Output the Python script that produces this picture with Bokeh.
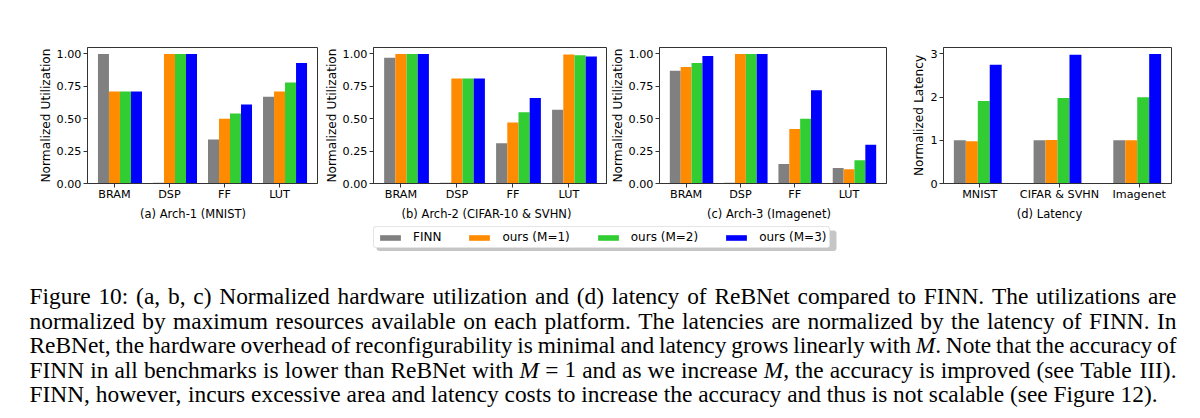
import numpy as np
from bokeh.plotting import figure
from bokeh.layouts import column, row
from bokeh.models import (ColumnDataSource, Range1d, FixedTicker, NumeralTickFormatter,
                          Legend, LegendItem, BoxAnnotation)
from bokeh.transform import dodge
from bokeh.core.properties import value, field
from bokeh.embed import file_html
from bokeh.resources import INLINE

# ---------------- data ----------------
resources = ["BRAM", "DSP", "FF", "LUT"]
series_names = ["FINN", "ours (M=1)", "ours (M=2)", "ours (M=3)"]
series_colors = ["#808080", "#ff8c00", "#32cd32", "#0000ff"]

arch1_finn = [1.00, 0.005, 0.34, 0.67]
arch1_m1 = [0.71, 1.00, 0.50, 0.71]
arch1_m2 = [0.71, 1.00, 0.54, 0.78]
arch1_m3 = [0.71, 1.00, 0.61, 0.93]

arch2_finn = [0.97, 0.005, 0.31, 0.57]
arch2_m1 = [1.00, 0.81, 0.47, 0.995]
arch2_m2 = [1.00, 0.81, 0.55, 0.99]
arch2_m3 = [1.00, 0.81, 0.66, 0.98]

arch3_finn = [0.87, 0.005, 0.15, 0.12]
arch3_m1 = [0.90, 1.00, 0.42, 0.11]
arch3_m2 = [0.93, 1.00, 0.50, 0.18]
arch3_m3 = [0.985, 1.00, 0.72, 0.30]

benchmarks = ["MNIST", "CIFAR & SVHN", "Imagenet"]
lat_finn = [1.00, 1.00, 1.00]
lat_m1 = [0.98, 1.01, 1.00]
lat_m2 = [1.91, 1.98, 2.00]
lat_m3 = [2.75, 2.98, 3.00]

util_ticks = [0.0, 0.25, 0.5, 0.75, 1.0]
lat_ticks = [0, 1, 2, 3]
subcaptions = ["(a) Arch-1 (MNIST)", "(b) Arch-2 (CIFAR-10 & SVHN)",
               "(c) Arch-3 (Imagenet)", "(d) Latency"]
ylabels = ["Normalized Utilization", "Normalized Utilization",
           "Normalized Utilization", "Normalized Latency"]

caption_lines = [
    "Figure 10: (a, b, c) Normalized hardware utilization and (d) latency of ReBNet compared to FINN. The utilizations are",
    "normalized by maximum resources available on each platform. The latencies are normalized by the latency of FINN. In",
    "ReBNet, the hardware overhead of reconfigurability is minimal and latency grows linearly with *M*. Note that the accuracy of",
    "FINN in all benchmarks is lower than ReBNet with *M* = 1 and as we increase *M*, the accuracy is improved (see Table III).",
    "FINN, however, incurs excessive area and latency costs to increase the accuracy and thus is not scalable (see Figure 12).",
]

SANS = "DejaVu Sans"
AXC = "#333333"
TOP_H = 205  # height of the panel row (page px)


def panel(cats, vals, ylabel, ymax, yticks, yfmt, bw, offsets,
          frame_w, bl, br):
    n = len(cats)
    src = ColumnDataSource(dict(x=list(range(n)), s0=vals[0], s1=vals[1],
                                s2=vals[2], s3=vals[3]))
    lo = offsets[0] - bw / 2
    hi = (n - 1) + offsets[-1] + bw / 2
    pad = 0.05 * (hi - lo)
    p = figure(frame_width=frame_w, frame_height=136,
               min_border_left=bl, min_border_right=br,
               min_border_top=47, min_border_bottom=TOP_H - 47 - 136,
               x_range=Range1d(lo - pad, hi + pad), y_range=Range1d(0, ymax),
               output_backend="svg", toolbar_location=None)
    for k in range(4):
        p.vbar(x=dodge("x", offsets[k], range=p.x_range), top="s%d" % k,
               width=bw, source=src, fill_color=series_colors[k],
               line_color=None)
    p.grid.grid_line_color = None
    p.outline_line_color = AXC
    p.outline_line_width = 1
    p.background_fill_color = "white"

    xa = p.xaxis[0]
    xa.ticker = FixedTicker(ticks=list(range(n)))
    xa.major_label_overrides = {i: c for i, c in enumerate(cats)}
    ya = p.yaxis[0]
    ya.ticker = FixedTicker(ticks=yticks)
    ya.formatter = NumeralTickFormatter(format=yfmt)
    ya.axis_label = ylabel
    for ax in (xa, ya):
        ax.axis_line_color = AXC
        ax.major_tick_line_color = AXC
        ax.major_tick_out = 4
        ax.major_tick_in = 0
        ax.minor_tick_line_color = None
        ax.major_label_text_font = SANS
        ax.major_label_text_font_size = "11.2px"
        ax.major_label_text_color = "black"
        ax.axis_label_text_font = SANS
        ax.axis_label_text_font_style = "normal"
        ax.axis_label_text_color = "black"
    xa.major_label_standoff = 0
    ya.major_label_standoff = 2
    ya.axis_label_standoff = 1
    ya.axis_label_text_font_size = "12.2px"
    return p, src


util_off = [-0.2, 0.0, 0.2, 0.4]
lat_off = [-0.25, -0.10, 0.05, 0.20]

fa, src_a = panel(resources, [arch1_finn, arch1_m1, arch1_m2, arch1_m3], ylabels[0],
                  1.05, util_ticks, "0.00", 0.2, util_off, 230, 87, 4)
fb, _ = panel(resources, [arch2_finn, arch2_m1, arch2_m2, arch2_m3], ylabels[1],
              1.05, util_ticks, "0.00", 0.2, util_off, 234, 51, 0)
fc, _ = panel(resources, [arch3_finn, arch3_m1, arch3_m2, arch3_m3], ylabels[2],
              1.05, util_ticks, "0.00", 0.2, util_off, 227, 51, 21)
fd, _ = panel(benchmarks, [lat_finn, lat_m1, lat_m2, lat_m3], ylabels[3],
              3.15, lat_ticks, "0", 0.15, lat_off, 228, 36, 31)

# ---------------- bottom: sub-captions, legend, caption ----------------
BOT_H = 418 - TOP_H
bf = figure(frame_width=1200, frame_height=BOT_H, min_border=0,
            x_range=Range1d(0, 1200), y_range=Range1d(418, TOP_H),
            x_axis_location=None, y_axis_location=None,
            output_backend="svg", toolbar_location=None)
bf.grid.visible = False
bf.outline_line_color = None

# sub-figure captions
sub_x = [192.5, 486.0, 768.5, 1049.0]
sub_src = ColumnDataSource(dict(x=sub_x, y=[213.0] * 4, text=subcaptions))
bf.text(x="x", y="y", text="text", source=sub_src, text_font=value(SANS),
        text_font_size=value("11.5px"), text_color="black",
        text_align="center", text_baseline="middle")

# legend proxies (hidden renderers that reuse panel (a) data)
rends = [bf.vbar(x="x", top="s%d" % k, width=0.2, source=src_a,
                 fill_color=c, line_color=None, visible=False)
         for k, c in enumerate(series_colors)]

shadow_kw = dict(left=376, right=836, top=230, bottom=250.5,
                 fill_color="#808080", fill_alpha=0.45, line_color=None)
if "border_radius" in BoxAnnotation.properties():
    shadow_kw["border_radius"] = 3
bf.add_layout(BoxAnnotation(**shadow_kw))

leg_kw = dict(items=[LegendItem(label=nm, renderers=[r])
                     for nm, r in zip(series_names, rends)],
              orientation="horizontal", location=(373, 418 - 248), margin=0,
              padding=3, spacing=25, glyph_width=26, glyph_height=7,
              label_standoff=10, label_height=12, label_text_font=SANS,
              label_text_font_size="12px", label_text_color="black",
              border_line_color="#cccccc", border_line_width=1,
              background_fill_color="white", background_fill_alpha=1.0)
if "border_radius" in Legend.properties():
    leg_kw["border_radius"] = 3
bf.add_layout(Legend(**leg_kw))

# caption text, justified with Times metrics
TIMES = {' ': 250, '(': 333, ')': 333, ',': 250, '-': 333, '.': 250, ':': 278,
         '=': 564, '&': 778,
         'A': 722, 'B': 667, 'C': 667, 'D': 722, 'E': 611, 'F': 556, 'G': 722,
         'H': 722, 'I': 333, 'J': 389, 'K': 722, 'L': 611, 'M': 889, 'N': 722,
         'O': 722, 'P': 556, 'Q': 722, 'R': 667, 'S': 556, 'T': 611, 'U': 722,
         'V': 722, 'W': 944, 'X': 722, 'Y': 722, 'Z': 611,
         'a': 444, 'b': 500, 'c': 444, 'd': 500, 'e': 444, 'f': 333, 'g': 500,
         'h': 500, 'i': 278, 'j': 278, 'k': 500, 'l': 278, 'm': 778, 'n': 500,
         'o': 500, 'p': 500, 'q': 500, 'r': 333, 's': 389, 't': 278, 'u': 500,
         'v': 500, 'w': 722, 'x': 500, 'y': 500, 'z': 444}
ITALIC = {'M': 833}
FS = 23.4
X0, X1 = 29.0, 1176.0
BASE0, LSTEP = 295.5, 24.6


def seg_width(t, italic):
    tbl = ITALIC if italic else TIMES
    return sum(tbl.get(ch, TIMES.get(ch, 500)) for ch in t) / 1000.0 * FS


cx, cy, ct, cs = [], [], [], []
for li, line in enumerate(caption_lines):
    words = []
    for w in line.split(" "):
        parts = w.split("*")
        segs = [(t, i % 2 == 1) for i, t in enumerate(parts) if t]
        words.append(segs)
    widths = [sum(seg_width(t, it) for t, it in segs) for segs in words]
    last = li == len(caption_lines) - 1
    if last:
        gap = 0.25 * FS
    else:
        gap = (X1 - X0 - sum(widths)) / (len(words) - 1)
    x = X0
    ybase = BASE0 + li * LSTEP
    for segs, wd in zip(words, widths):
        sx = x
        for t, it in segs:
            cx.append(sx)
            cy.append(ybase)
            ct.append(t)
            cs.append("italic" if it else "normal")
            sx += seg_width(t, it)
        x += wd + gap

csrc = ColumnDataSource(dict(x=cx, y=cy, text=ct, style=cs))
bf.text(x="x", y="y", text="text", source=csrc, text_font_style=field("style"),
        text_font=value("Liberation Serif"), text_font_size=value("%.1fpx" % FS),
        text_color="black", text_baseline="alphabetic", text_align="left")

layout = column(row(fa, fb, fc, fd), bf)
open("out.html", "w").write(file_html(layout, INLINE))
